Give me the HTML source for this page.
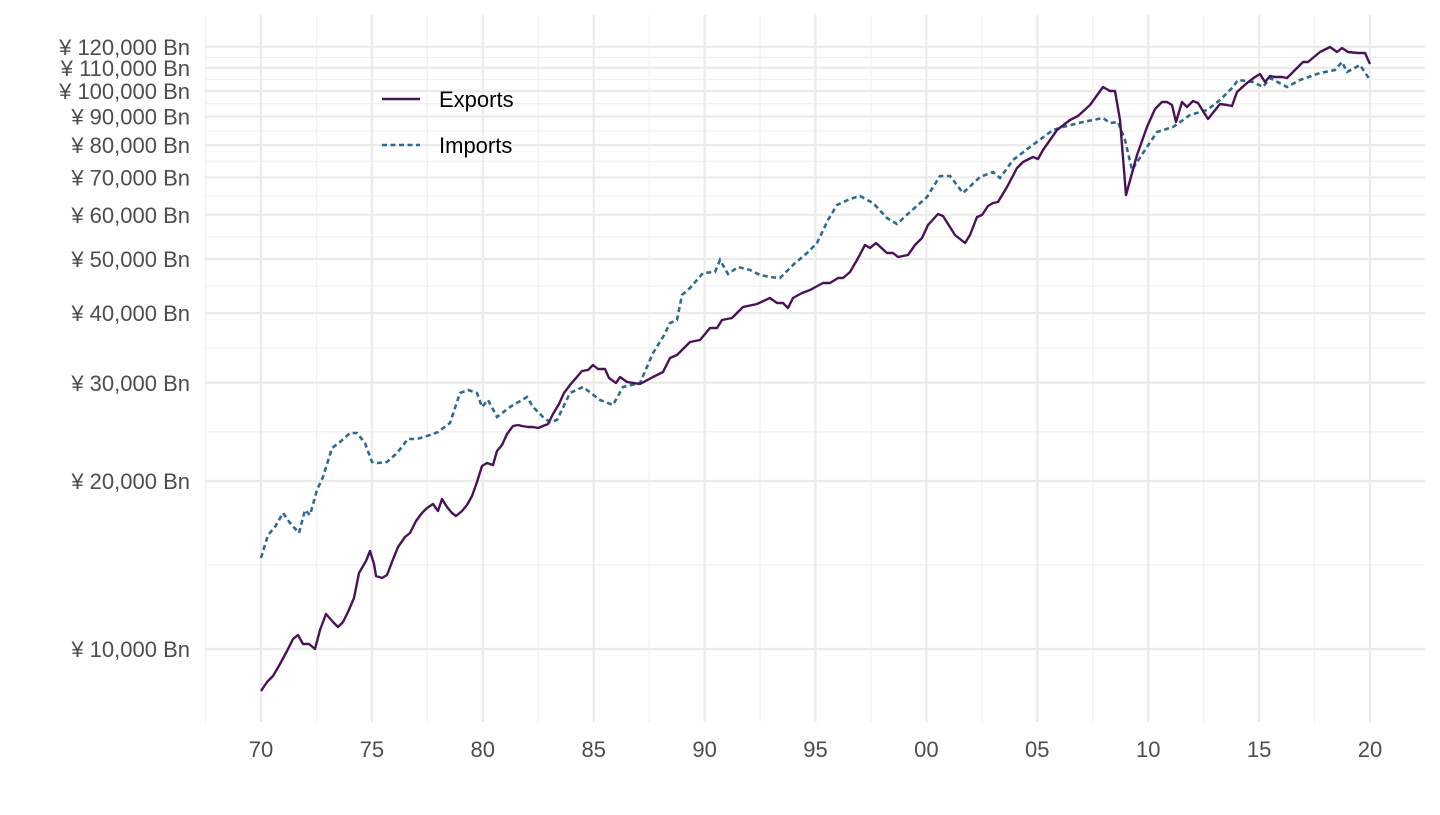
<!DOCTYPE html>
<html><head><meta charset="utf-8"><style>
body{margin:0;background:#fff;}
svg text{font-family:"Liberation Sans",Arial,sans-serif;}
</style></head><body>
<svg id="s" width="1440" height="810" xmlns="http://www.w3.org/2000/svg">
<g id="grid"></g>
<polyline fill="none" stroke="#2f6b8e" stroke-width="2.6" stroke-dasharray="5,3.5" points="261,558 268,535 275,527 283,513 290,523 299,533 305,510 310,515 317,490 323,477 332,448 340,442 350,433 357,433 365,443 372,462 378,463 387,462 397,453 408,439 417,439 430,435 438,432 450,423 460,393 468,390 477,393 482,407 488,400 497,417 510,407 527,397 533,407 543,417 550,422 557,420 570,393 583,387 600,400 613,405 623,387 640,383 653,353 663,337 670,323 677,320 682,295 690,288 703,273 715,272 720,260 728,274 738,267 750,270 760,275 770,277 780,278 793,265 807,253 817,243 828,220 837,205 850,199 860,196 873,203 887,218 897,224 910,212 927,197 940,176 950,176 963,193 980,177 993,172 1000,178 1013,160 1030,147 1053,130 1063,127 1083,122 1103,118 1110,123 1118,122 1125,140 1132,170 1143,153 1157,132 1173,127 1190,115 1207,110 1220,100 1233,87 1238,80 1253,82 1263,87 1270,78 1287,87 1300,80 1320,73 1335,70 1342,62 1347,72 1360,65 1370,80"/>
<polyline fill="none" stroke="#4a1257" stroke-width="2.4" stroke-linejoin="round" points="261,691 267,682 273,676 280,664 287,651 293,639 298,635 303,644 309,644 315,649 320,630 326,614 333,622 338,627 343,622 348,612 354,598 359,573 366,561 370,551 374,564 376,576 382,578 387,575 392,562 398,547 405,537 410,533 416,521 422,513 427,508 433,504 438,511 442,499 447,507 452,513 456,516 462,511 467,505 472,496 477,482 482,466 487,463 493,465 497,451 502,445 507,434 513,426 518,425 522,426 528,427 533,427 538,428 543,426 548,424 553,414 559,404 564,393 570,385 576,378 582,371 588,370 593,365 598,369 605,369 609,378 616,383 620,377 627,382 640,384 653,377 663,372 670,358 677,355 690,342 700,340 710,328 717,328 722,320 732,318 743,307 757,304 770,298 777,303 783,303 788,308 793,298 802,293 810,290 823,283 830,283 838,278 843,278 850,272 857,260 865,245 870,248 876,243 887,253 893,253 898,257 908,255 915,245 922,238 928,225 938,214 943,216 955,235 965,243 970,235 977,217 982,215 988,206 993,203 998,202 1007,187 1017,168 1023,162 1033,157 1038,159 1043,150 1057,130 1070,120 1078,116 1090,105 1103,87 1110,91 1115,91 1120,120 1126,195 1137,155 1147,127 1155,109 1162,102 1167,102 1172,105 1176,122 1182,102 1187,107 1193,101 1198,103 1208,119 1220,104 1227,105 1232,106 1237,92 1247,83 1255,77 1260,74 1265,82 1270,76 1275,77 1282,77 1287,78 1295,70 1303,62 1308,62 1320,52 1330,47 1337,52 1342,48 1348,52 1358,53 1365,53 1370,64"/>
<line x1="382" y1="99" x2="420" y2="99" stroke="#4a1257" stroke-width="2.4"/>
<line x1="382" y1="145" x2="420" y2="145" stroke="#2f6b8e" stroke-width="2.6" stroke-dasharray="5,3.5"/>
<text x="439" y="107" font-size="22" fill="#000">Exports</text>
<text x="439" y="153" font-size="22" fill="#000">Imports</text>
</svg>
<script>
var g=document.getElementById('grid'),h='';
function Y(v){return 649-558*Math.log10(v/10000);}
var maj=[10000,20000,30000,40000,50000,60000,70000,80000,90000,100000,110000,120000];
for(var i=0;i<maj.length-1;i++){var m=Math.sqrt(maj[i]*maj[i+1]);h+='<line x1="205" x2="1425" y1="'+Y(m)+'" y2="'+Y(m)+'" stroke="#f0f0f0" stroke-width="1.2"/>';}
for(var k=0;k<=10;k++){var x=261+110.9*k;h+='<line y1="15" y2="722" x1="'+x+'" x2="'+x+'" stroke="#ebebeb" stroke-width="2.2"/>';}
for(var k=-1;k<=10;k++){var x=261+110.9*k+55.45;if(x>205&&x<1425)h+='<line y1="15" y2="722" x1="'+x+'" x2="'+x+'" stroke="#f0f0f0" stroke-width="1.2"/>';}
maj.forEach(function(v){var y=Y(v);h+='<line x1="205" x2="1425" y1="'+y+'" y2="'+y+'" stroke="#ebebeb" stroke-width="2.2"/>';
h+='<text x="190" y="'+(y+8)+'" font-size="22" fill="#4d4d4d" text-anchor="end">¥ '+v.toLocaleString('en-US')+' Bn</text>';});
var lab=['70','75','80','85','90','95','00','05','10','15','20'];
for(var k=0;k<=10;k++){h+='<text x="'+(261+110.9*k)+'" y="757" font-size="22" fill="#4d4d4d" text-anchor="middle">'+lab[k]+'</text>';}
g.innerHTML=h;
</script>
</body></html>
